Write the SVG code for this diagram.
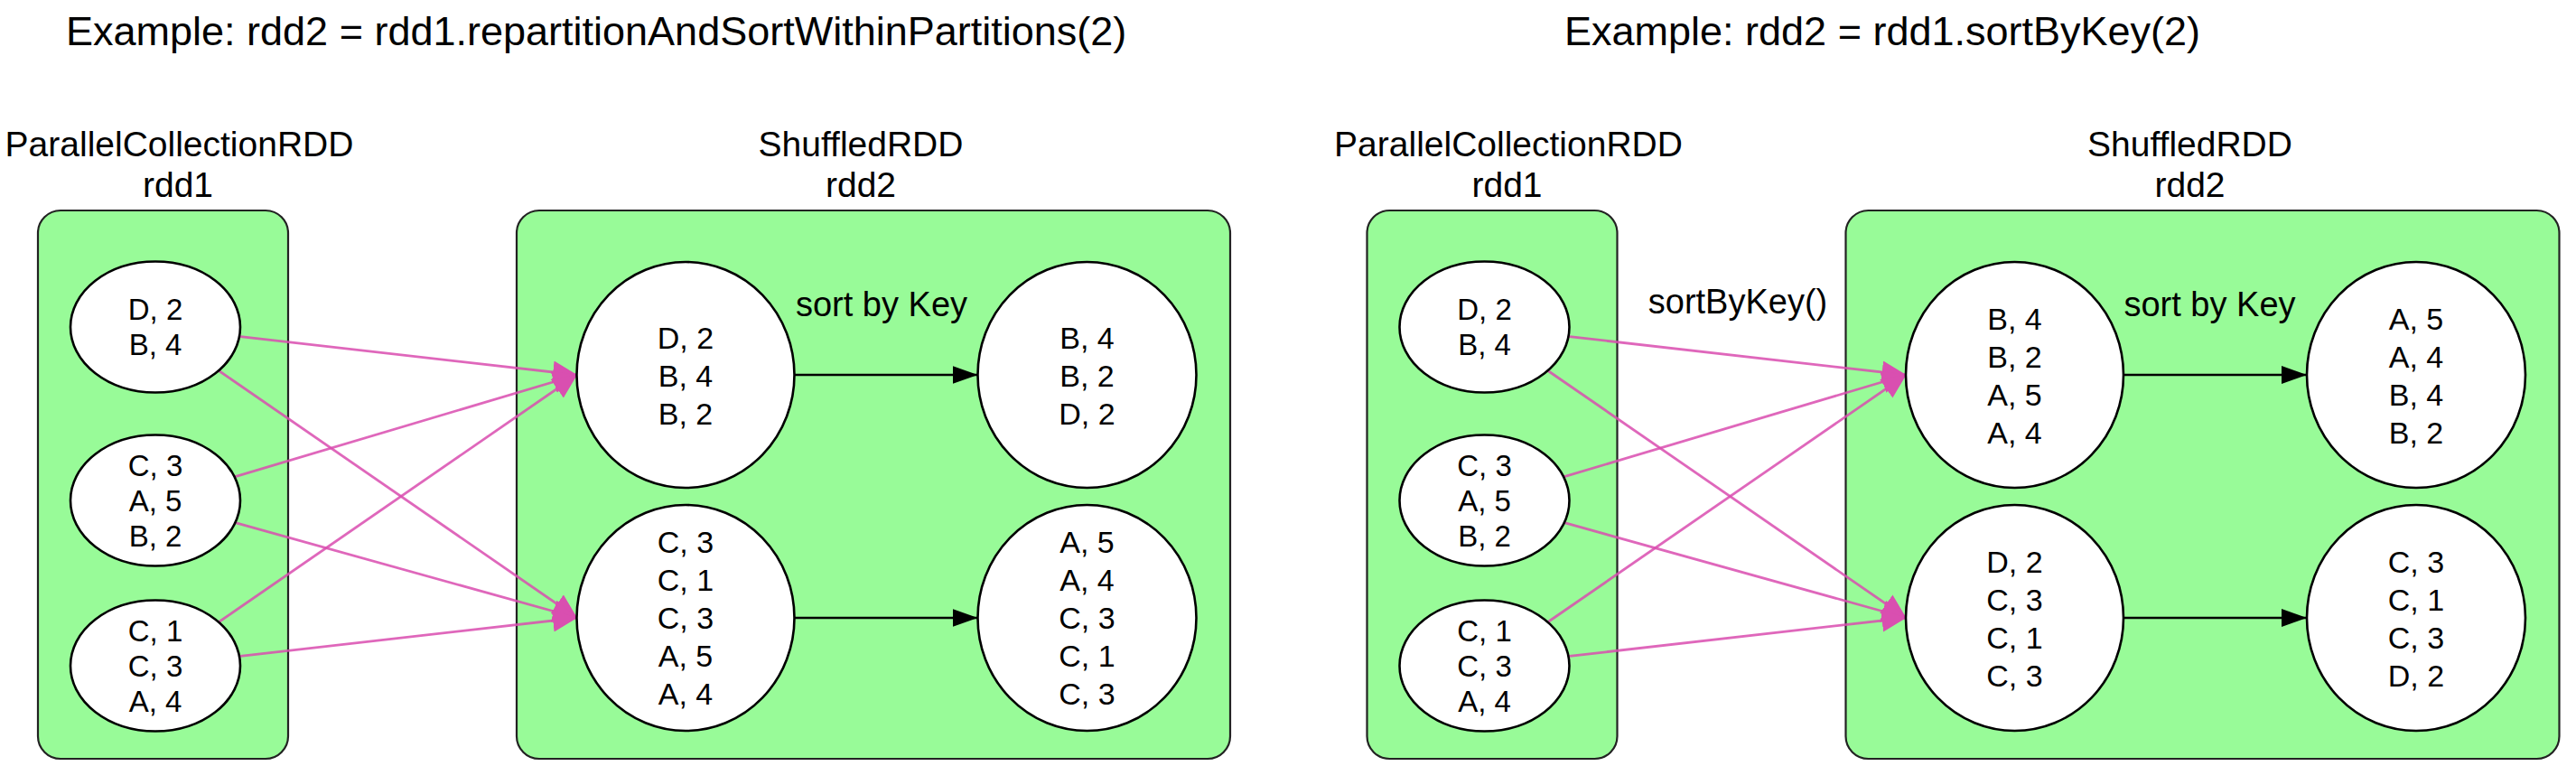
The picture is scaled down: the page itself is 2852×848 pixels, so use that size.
<svg xmlns="http://www.w3.org/2000/svg" width="2852" height="848" viewBox="0 0 2852 848">
<defs>
<style>
.t{font-family:"Liberation Sans",Arial,Helvetica,sans-serif;fill:#000}
.title{font-size:45px}
.lbl{font-size:39px;text-anchor:middle}
.op{font-size:38px;text-anchor:middle}
.n1{font-size:33px;text-anchor:middle}
.n2{font-size:34px;text-anchor:middle}
.box{fill:#98fb98;stroke:#222;stroke-width:2.2}
.node{fill:#fff;stroke:#000;stroke-width:2.6}
.shuf{fill:none;stroke:#d94caf;stroke-width:2.8;stroke-opacity:0.85}
.sort{fill:none;stroke:#000;stroke-width:2.6}
</style>
<marker id="pinkHead" markerUnits="userSpaceOnUse" markerWidth="30" markerHeight="28" refX="27" refY="12.5" orient="auto"><path d="M0,0 L27,12.5 L0,25 z" fill="#d94fb0"/></marker>
<marker id="blackHead" markerUnits="userSpaceOnUse" markerWidth="30" markerHeight="22" refX="28" refY="10" orient="auto"><path d="M0,0 L28,10 L0,20 z" fill="#000"/></marker>
</defs>
<rect width="2852" height="848" fill="#fff"/>

<!-- Left example -->
<text class="t title" x="73" y="50">Example: rdd2 = rdd1.repartitionAndSortWithinPartitions(2)</text>
<g id="left-panel">
  <g id="L-rdd1">
    <rect class="box" x="42" y="233" width="277" height="607" rx="25"/>
    <text class="t lbl" x="198.5" y="173">ParallelCollectionRDD</text>
    <text class="t lbl" x="197" y="218">rdd1</text>
  </g>
  <g id="L-rdd2">
    <rect class="box" x="572" y="233" width="790" height="607" rx="25"/>
    <text class="t lbl" x="953" y="173">ShuffledRDD</text>
    <text class="t lbl" x="953" y="218">rdd2</text>
    <text class="t op" x="976" y="350">sort by Key</text>
  </g>
  <g id="L-connectors">
    <path class="shuf" d="M264,372.4 L639,415" marker-end="url(#pinkHead)"/>
    <path class="shuf" d="M241.7,410 L639,684" marker-end="url(#pinkHead)"/>
    <path class="shuf" d="M258.9,528.1 L639,415" marker-end="url(#pinkHead)"/>
    <path class="shuf" d="M259.6,578.4 L639,684" marker-end="url(#pinkHead)"/>
    <path class="shuf" d="M241.7,689 L639,415" marker-end="url(#pinkHead)"/>
    <path class="shuf" d="M264,726.6 L639,684" marker-end="url(#pinkHead)"/>
    <path class="sort" d="M879.5,415 L1082.5,415" marker-end="url(#blackHead)"/>
    <path class="sort" d="M879.5,684 L1082.5,684" marker-end="url(#blackHead)"/>
  </g>
  <g id="L-p1-0">
    <ellipse class="node" cx="172" cy="362" rx="94" ry="72.5"/>
    <text class="t n1" x="172" y="354">D, 2</text>
    <text class="t n1" x="172" y="393">B, 4</text>
  </g>
  <g id="L-p1-1">
    <ellipse class="node" cx="172" cy="554" rx="94" ry="72.5"/>
    <text class="t n1" x="172" y="526.5">C, 3</text>
    <text class="t n1" x="172" y="565.5">A, 5</text>
    <text class="t n1" x="172" y="604.5">B, 2</text>
  </g>
  <g id="L-p1-2">
    <ellipse class="node" cx="172" cy="737" rx="94" ry="72.5"/>
    <text class="t n1" x="172" y="709.5">C, 1</text>
    <text class="t n1" x="172" y="748.5">C, 3</text>
    <text class="t n1" x="172" y="787.5">A, 4</text>
  </g>
  <g id="L-p2-0">
    <ellipse class="node" cx="759" cy="415" rx="120.5" ry="125"/>
    <text class="t n2" x="759" y="386">D, 2</text>
    <text class="t n2" x="759" y="428">B, 4</text>
    <text class="t n2" x="759" y="470">B, 2</text>
  </g>
  <g id="L-p2-0-sorted">
    <ellipse class="node" cx="1203.5" cy="415" rx="121" ry="125"/>
    <text class="t n2" x="1203.5" y="386">B, 4</text>
    <text class="t n2" x="1203.5" y="428">B, 2</text>
    <text class="t n2" x="1203.5" y="470">D, 2</text>
  </g>
  <g id="L-p2-1">
    <ellipse class="node" cx="759" cy="684" rx="120.5" ry="125"/>
    <text class="t n2" x="759" y="612">C, 3</text>
    <text class="t n2" x="759" y="654">C, 1</text>
    <text class="t n2" x="759" y="696">C, 3</text>
    <text class="t n2" x="759" y="738">A, 5</text>
    <text class="t n2" x="759" y="780">A, 4</text>
  </g>
  <g id="L-p2-1-sorted">
    <ellipse class="node" cx="1203.5" cy="684" rx="121" ry="125"/>
    <text class="t n2" x="1203.5" y="612">A, 5</text>
    <text class="t n2" x="1203.5" y="654">A, 4</text>
    <text class="t n2" x="1203.5" y="696">C, 3</text>
    <text class="t n2" x="1203.5" y="738">C, 1</text>
    <text class="t n2" x="1203.5" y="780">C, 3</text>
  </g>
</g>

<!-- Right example -->
<text class="t title" x="1732" y="50">Example: rdd2 = rdd1.sortByKey(2)</text>
<text class="t op" x="1924" y="347">sortByKey()</text>
<g id="right-panel" transform="translate(1471.5,0)">
  <g id="R-rdd1">
    <rect class="box" x="42" y="233" width="277" height="607" rx="25"/>
    <text class="t lbl" x="198.5" y="173">ParallelCollectionRDD</text>
    <text class="t lbl" x="197" y="218">rdd1</text>
  </g>
  <g id="R-rdd2">
    <rect class="box" x="572" y="233" width="790" height="607" rx="25"/>
    <text class="t lbl" x="953" y="173">ShuffledRDD</text>
    <text class="t lbl" x="953" y="218">rdd2</text>
    <text class="t op" x="975" y="350">sort by Key</text>
  </g>
  <g id="R-connectors">
    <path class="shuf" d="M264,372.4 L639,415" marker-end="url(#pinkHead)"/>
    <path class="shuf" d="M241.7,410 L639,684" marker-end="url(#pinkHead)"/>
    <path class="shuf" d="M258.9,528.1 L639,415" marker-end="url(#pinkHead)"/>
    <path class="shuf" d="M259.6,578.4 L639,684" marker-end="url(#pinkHead)"/>
    <path class="shuf" d="M241.7,689 L639,415" marker-end="url(#pinkHead)"/>
    <path class="shuf" d="M264,726.6 L639,684" marker-end="url(#pinkHead)"/>
    <path class="sort" d="M879.5,415 L1082.5,415" marker-end="url(#blackHead)"/>
    <path class="sort" d="M879.5,684 L1082.5,684" marker-end="url(#blackHead)"/>
  </g>
  <g id="R-p1-0">
    <ellipse class="node" cx="172" cy="362" rx="94" ry="72.5"/>
    <text class="t n1" x="172" y="354">D, 2</text>
    <text class="t n1" x="172" y="393">B, 4</text>
  </g>
  <g id="R-p1-1">
    <ellipse class="node" cx="172" cy="554" rx="94" ry="72.5"/>
    <text class="t n1" x="172" y="526.5">C, 3</text>
    <text class="t n1" x="172" y="565.5">A, 5</text>
    <text class="t n1" x="172" y="604.5">B, 2</text>
  </g>
  <g id="R-p1-2">
    <ellipse class="node" cx="172" cy="737" rx="94" ry="72.5"/>
    <text class="t n1" x="172" y="709.5">C, 1</text>
    <text class="t n1" x="172" y="748.5">C, 3</text>
    <text class="t n1" x="172" y="787.5">A, 4</text>
  </g>
  <g id="R-p2-0">
    <ellipse class="node" cx="759" cy="415" rx="120.5" ry="125"/>
    <text class="t n2" x="759" y="365">B, 4</text>
    <text class="t n2" x="759" y="407">B, 2</text>
    <text class="t n2" x="759" y="449">A, 5</text>
    <text class="t n2" x="759" y="491">A, 4</text>
  </g>
  <g id="R-p2-0-sorted">
    <ellipse class="node" cx="1203.5" cy="415" rx="121" ry="125"/>
    <text class="t n2" x="1203.5" y="365">A, 5</text>
    <text class="t n2" x="1203.5" y="407">A, 4</text>
    <text class="t n2" x="1203.5" y="449">B, 4</text>
    <text class="t n2" x="1203.5" y="491">B, 2</text>
  </g>
  <g id="R-p2-1">
    <ellipse class="node" cx="759" cy="684" rx="120.5" ry="125"/>
    <text class="t n2" x="759" y="634">D, 2</text>
    <text class="t n2" x="759" y="676">C, 3</text>
    <text class="t n2" x="759" y="718">C, 1</text>
    <text class="t n2" x="759" y="760">C, 3</text>
  </g>
  <g id="R-p2-1-sorted">
    <ellipse class="node" cx="1203.5" cy="684" rx="121" ry="125"/>
    <text class="t n2" x="1203.5" y="634">C, 3</text>
    <text class="t n2" x="1203.5" y="676">C, 1</text>
    <text class="t n2" x="1203.5" y="718">C, 3</text>
    <text class="t n2" x="1203.5" y="760">D, 2</text>
  </g>
</g>
</svg>
